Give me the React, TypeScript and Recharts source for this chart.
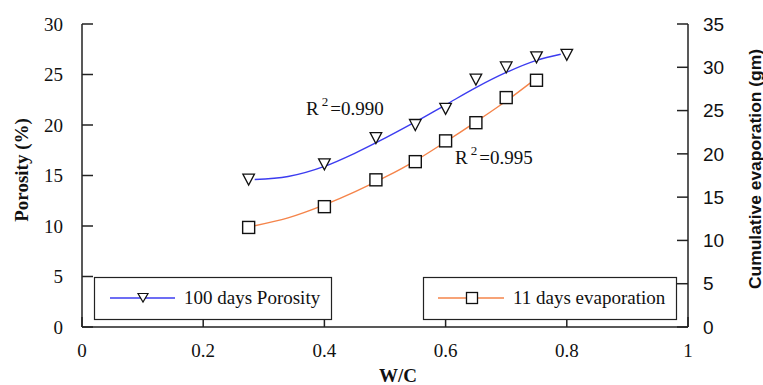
import { ComposedChart, XAxis, YAxis, Line, Label, Legend, ReferenceDot } from "recharts";

// measured points
const wcPorosity: number[] = [0.275, 0.4, 0.485, 0.55, 0.6, 0.65, 0.7, 0.75, 0.8];
const porosity: number[] = [14.6, 16.1, 18.7, 20.0, 21.6, 24.5, 25.7, 26.7, 26.95];

const wcEvap: number[] = [0.275, 0.4, 0.485, 0.55, 0.6, 0.65, 0.7, 0.75];
const evaporation: number[] = [11.5, 13.9, 17.0, 19.1, 21.5, 23.6, 26.5, 28.5];

// fitted trend curves
const wcPorosityFit: number[] = [0.285, 0.34, 0.4, 0.45, 0.5, 0.55, 0.6, 0.65, 0.7, 0.75, 0.79];
const porosityFit: number[] = [14.6, 14.9, 15.9, 17.2, 18.7, 20.3, 22.0, 23.7, 25.2, 26.4, 27.0];

const wcEvapFit: number[] = [0.285, 0.34, 0.4, 0.45, 0.5, 0.55, 0.6, 0.65, 0.7, 0.74];
const evaporationFit: number[] = [11.7, 12.6, 14.1, 15.6, 17.3, 19.2, 21.4, 23.7, 26.1, 28.2];

const xTicks: number[] = [0, 0.2, 0.4, 0.6, 0.8, 1];
const leftTicks: number[] = [0, 5, 10, 15, 20, 25, 30];
const rightTicks: number[] = [0, 5, 10, 15, 20, 25, 30, 35];

const BLUE = "#3c3cf0";
const ORANGE = "#f5844a";
const SERIF = "'Liberation Serif', 'Times New Roman', serif";
const SANS = "'Liberation Sans', Arial, sans-serif";

const toPts = (xs: number[], ys: number[]) => xs.map((x, i) => ({ x, y: ys[i] }));

const Triangle = (props: any) => {
    const { cx, cy } = props;
    if (cx == null || cy == null) return <g />;
    return (
        <polygon
            points={`${cx - 5.8},${cy - 5.5} ${cx + 5.8},${cy - 5.5} ${cx},${cy + 5.5}`}
            fill="#fff"
            stroke="#111"
            strokeWidth={1.3}
        />
    );
};

const Square = (props: any) => {
    const { cx, cy } = props;
    if (cx == null || cy == null) return <g />;
    return <rect x={cx - 6} y={cy - 6} width={12} height={12} fill="#fff" stroke="#111" strokeWidth={1.4} />;
};

const LegendBoxes = () => (
    <svg width={763} height={385} style={{ position: "absolute", left: 0, top: 0 }}>
        <rect x={94.5} y={277.5} width={237} height={42} fill="#fff" stroke="#222" strokeWidth={1.2} />
        <line x1={110} x2={175} y1={298} y2={298} stroke={BLUE} strokeWidth={1.3} />
        <polygon points="138,293.5 148,293.5 143,302" fill="#fff" stroke="#111" strokeWidth={1.2} />
        <text x={184} y={304} fontFamily={SERIF} fontSize={19} fill="#111">
            100 days Porosity
        </text>
        <rect x={423.5} y={277.5} width={253} height={42} fill="#fff" stroke="#222" strokeWidth={1.2} />
        <line x1={438} x2={504} y1={298} y2={298} stroke={ORANGE} strokeWidth={1.3} />
        <rect x={466.5} y={292.5} width={11} height={11} fill="#fff" stroke="#111" strokeWidth={1.3} />
        <text x={513} y={304} fontFamily={SERIF} fontSize={19} fill="#111">
            11 days evaporation
        </text>
    </svg>
);

const R2 = (value: string, x: number, y: number) => () =>
    (
        <text x={x} y={y} fontFamily={SERIF} fontSize={19} fill="#111">
            R
            <tspan dx={3} dy={-9} fontSize={13}>
                2
            </tspan>
            <tspan dx={2} dy={9}>
                {value}
            </tspan>
        </text>
    );

export default function App() {
    const tickStyle = { fontFamily: SERIF, fontSize: 19, fill: "#111" };
    return (
        <div style={{ position: "absolute", left: 0, top: 0, background: "#fff" }}>
            <ComposedChart width={763} height={385} margin={{ top: 24, right: 0, bottom: 0, left: 0 }}>
                <XAxis
                    xAxisId="bottom"
                    type="number"
                    dataKey="x"
                    domain={[0, 1]}
                    ticks={xTicks}
                    allowDataOverflow
                    height={58}
                    tickSize={-10}
                    tickMargin={27}
                    tick={tickStyle}
                    stroke="#222"
                    axisLine={{ stroke: "#222", strokeWidth: 1.5 }}
                    tickLine={{ stroke: "#222", strokeWidth: 1.5 }}
                >
                    <Label
                        content={() => (
                            <text x={398} y={382} textAnchor="middle" fontFamily={SERIF} fontWeight="bold" fontSize={19} fill="#111">
                                W/C
                            </text>
                        )}
                    />
                </XAxis>
                <XAxis
                    xAxisId="top"
                    orientation="top"
                    type="number"
                    dataKey="x"
                    domain={[0, 1]}
                    ticks={xTicks}
                    allowDataOverflow
                    height={0}
                    tickSize={-10}
                    tick={() => <g />}
                    axisLine={{ stroke: "#222", strokeWidth: 1.5 }}
                    tickLine={{ stroke: "#222", strokeWidth: 1.5 }}
                />
                <YAxis
                    yAxisId="left"
                    domain={[0, 30]}
                    ticks={leftTicks}
                    allowDataOverflow
                    width={82}
                    tickSize={-11}
                    tickMargin={30}
                    tick={tickStyle}
                    axisLine={{ stroke: "#222", strokeWidth: 1.5 }}
                    tickLine={{ stroke: "#222", strokeWidth: 1.5 }}
                >
                    <Label
                        content={() => (
                            <text
                                x={28}
                                y={170}
                                transform="rotate(-90 28 170)"
                                textAnchor="middle"
                                fontFamily={SERIF}
                                fontWeight="bold"
                                fontSize={19}
                                fill="#111"
                            >
                                Porosity (%)
                            </text>
                        )}
                    />
                </YAxis>
                <YAxis
                    yAxisId="right"
                    orientation="right"
                    domain={[0, 35]}
                    ticks={rightTicks}
                    allowDataOverflow
                    width={75}
                    tickSize={-11}
                    tickMargin={26}
                    tick={{ fontFamily: SANS, fontSize: 19, fill: "#111" }}
                    axisLine={{ stroke: "#222", strokeWidth: 1.5 }}
                    tickLine={{ stroke: "#222", strokeWidth: 1.5 }}
                >
                    <Label
                        content={() => (
                            <text
                                x={755}
                                y={169}
                                transform="rotate(-90 755 169)"
                                textAnchor="middle"
                                dominantBaseline="central"
                                fontFamily={SANS}
                                fontWeight="bold"
                                fontSize={17}
                                textLength={240}
                                lengthAdjust="spacingAndGlyphs"
                                fill="#111"
                            >
                                Cumulative evaporation (gm)
                            </text>
                        )}
                    />
                </YAxis>

                <Line
                    xAxisId="bottom"
                    yAxisId="left"
                    data={toPts(wcPorosityFit, porosityFit)}
                    dataKey="y"
                    type="monotone"
                    stroke={BLUE}
                    strokeWidth={1.4}
                    dot={false}
                    isAnimationActive={false}
                    legendType="none"
                />
                <Line
                    xAxisId="bottom"
                    yAxisId="right"
                    data={toPts(wcEvapFit, evaporationFit)}
                    dataKey="y"
                    type="monotone"
                    stroke={ORANGE}
                    strokeWidth={1.4}
                    dot={false}
                    isAnimationActive={false}
                    legendType="none"
                />
                <Line
                    xAxisId="bottom"
                    yAxisId="left"
                    data={toPts(wcPorosity, porosity)}
                    dataKey="y"
                    stroke="none"
                    dot={<Triangle />}
                    isAnimationActive={false}
                    name="100 days Porosity"
                />
                <Line
                    xAxisId="bottom"
                    yAxisId="right"
                    data={toPts(wcEvap, evaporation)}
                    dataKey="y"
                    stroke="none"
                    dot={<Square />}
                    isAnimationActive={false}
                    name="11 days evaporation"
                />

                <ReferenceDot xAxisId="bottom" yAxisId="left" x={0.4} y={22} r={0} fill="none" stroke="none" label={{ content: R2("=0.990", 306, 115) }} />
                <ReferenceDot xAxisId="bottom" yAxisId="left" x={0.6} y={16} r={0} fill="none" stroke="none" label={{ content: R2("=0.995", 455, 164) }} />

                <Legend
                    layout="vertical"
                    align="center"
                    verticalAlign="middle"
                    wrapperStyle={{ left: 0, top: 0, width: 763, height: 385 }}
                    content={() => <LegendBoxes />}
                />
            </ComposedChart>
        </div>
    );
}
